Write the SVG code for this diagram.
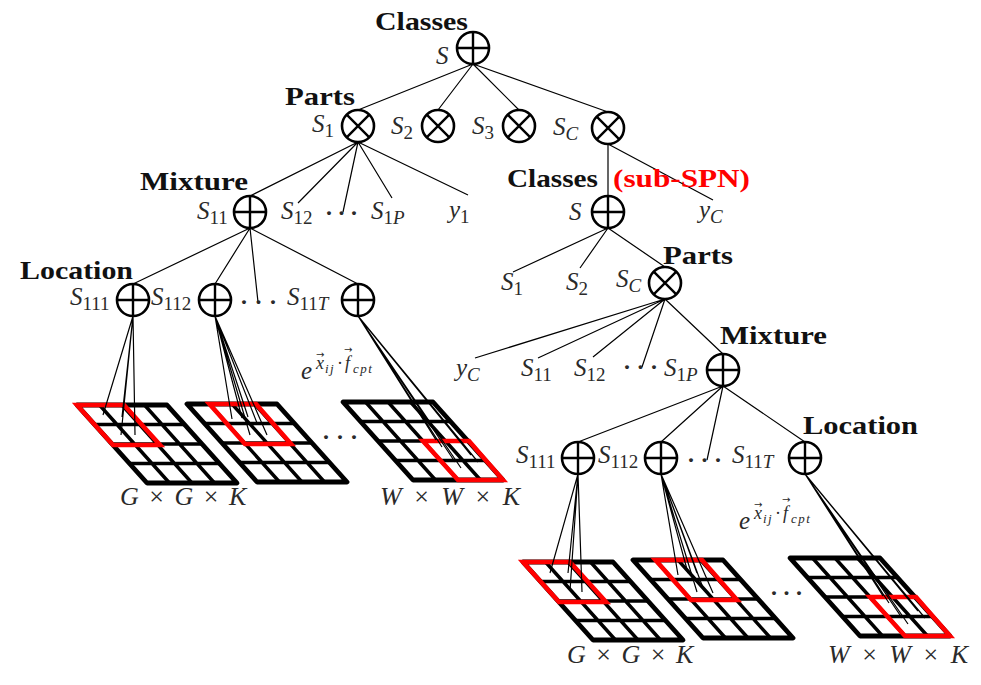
<svg xmlns="http://www.w3.org/2000/svg" xmlns:xlink="http://www.w3.org/1999/xlink" width="981" height="685" viewBox="0 0 981 685">
<style>
.bg{fill:#fff}
.nd{fill:#fff;stroke:#000;stroke-width:2.6}
.op{fill:none;stroke:#000;stroke-width:2.4}
.e{fill:none;stroke:#000;stroke-width:1.2}
.go{fill:none;stroke:#000;stroke-width:4.8;stroke-linejoin:round}
.gi{fill:none;stroke:#000;stroke-width:3.4}
.rb{fill:none;stroke:#f00;stroke-width:4.6;stroke-linejoin:miter}
.b{font-family:"Liberation Serif","Times New Roman",serif;font-weight:bold;font-size:25px;fill:#111}
.red{fill:#f00}
.m{font-family:"Liberation Serif","Times New Roman",serif;font-style:italic;font-size:25px;fill:#2a2a2a}
.s{font-size:19px}
.u{font-style:normal}
.sm{font-size:18px}
.ss{font-size:13px;letter-spacing:1.5px}
.ar{font-family:"DejaVu Sans","Liberation Sans",sans-serif;font-size:10px;fill:#2a2a2a}
.big{font-size:26px}
.dots{font-family:"Liberation Serif",serif;font-size:24px;fill:#2a2a2a;font-weight:bold}
</style>
<defs>
<g id="grid">
<path class="gi" d="M17.5,19.5H107.5M35,39H125M52.5,58.5H142.5M22.5,0L92.5,78M45,0L115,78M67.5,0L137.5,78"/>
<path class="go" d="M0,0H90L160,78H70Z"/>
</g>
<path id="rTL" class="rb" d="M0,0H47L83,40H36Z"/>
<path id="rT1" class="rb" d="M22.5,0H69L104,40H58Z"/>
<path id="rBR" class="rb" d="M80,39H126L160,78H115Z"/>
</defs>
<rect class="bg" x="0" y="0" width="981" height="685"/>

<g id="connectors">
<path class="e" d="M473,64L358,110M473,64L438,110M473,64L519,110M473,64L608,112"/>
<path class="e" d="M358,142L250,196M358,142L298,203M358,142L343,212M358,142L392,198M358,142L468,195"/>
<path class="e" d="M608,144L608,196M608,144L713,200"/>
<path class="e" d="M250,228L133,284M250,228L215,284M250,228L258,302M250,228L358,284"/>
<path class="e" d="M608,228L513,272M608,228L580,268M608,228L665,267"/>
<path class="e" d="M665,299L475,358M665,299L538,358M665,299L593,357M665,299L642,367M665,299L723,354"/>
<path class="e" d="M723,386L578,442M723,386L661,442M723,386L707,460M723,386L805,442"/>
</g>

<g id="grid-L1"><use xlink:href="#grid" x="77" y="405"/><use xlink:href="#rTL" x="77" y="405"/></g>
<g id="grid-L2"><use xlink:href="#grid" x="187" y="404"/><use xlink:href="#rT1" x="187" y="404"/></g>
<g id="grid-L3"><use xlink:href="#grid" x="343" y="402"/><use xlink:href="#rBR" x="343" y="402"/></g>
<g id="grid-R1"><use xlink:href="#grid" x="523" y="562"/><use xlink:href="#rTL" x="523" y="562"/></g>
<g id="grid-R2"><use xlink:href="#grid" x="633" y="560"/><use xlink:href="#rT1" x="633" y="560"/></g>
<g id="grid-R3"><use xlink:href="#grid" x="790" y="558"/><use xlink:href="#rBR" x="790" y="558"/></g>

<g id="fans">
<path class="e" d="M133,316L103,415M133,316L122,417M133,316L121,435M133,316L135,435"/>
<path class="e" d="M215,316L232,419M215,316L242,418M215,316L248,417M215,316L250,435M215,316L257,423M215,316L267,435"/>
<path class="e" d="M358,316L442,447M358,316L455,462M358,316L461,468M358,316L471,455M358,316L478,462M358,316L436,440"/>
<path class="e" d="M578,474L550,573M578,474L568,573M578,474L570,591M578,474L582,592"/>
<path class="e" d="M661,474L678,575M661,474L688,573M661,474L697,573M661,474L697,592M661,474L703,588M661,474L713,593"/>
<path class="e" d="M805,474L889,603M805,474L902,618M805,474L908,624M805,474L918,611M805,474L925,618M805,474L883,596"/>
</g>

<g id="n-root"><circle class="nd" cx="473" cy="48" r="16"/><path class="op" d="M457,48H489M473,32V64"/></g>
<g id="n-S1"><circle class="nd" cx="358" cy="126" r="16"/><path class="op" d="M346.7,114.7L369.3,137.3M369.3,114.7L346.7,137.3"/></g>
<g id="n-S2"><circle class="nd" cx="438" cy="126" r="16"/><path class="op" d="M426.7,114.7L449.3,137.3M449.3,114.7L426.7,137.3"/></g>
<g id="n-S3"><circle class="nd" cx="519" cy="126" r="16"/><path class="op" d="M507.7,114.7L530.3,137.3M530.3,114.7L507.7,137.3"/></g>
<g id="n-SC"><circle class="nd" cx="608" cy="128" r="16"/><path class="op" d="M596.7,116.7L619.3,139.3M619.3,116.7L596.7,139.3"/></g>
<g id="n-S11"><circle class="nd" cx="250" cy="212" r="16"/><path class="op" d="M234,212H266M250,196V228"/></g>
<g id="n-S111"><circle class="nd" cx="133" cy="300" r="16"/><path class="op" d="M117,300H149M133,284V316"/></g>
<g id="n-S112"><circle class="nd" cx="215" cy="300" r="16"/><path class="op" d="M199,300H231M215,284V316"/></g>
<g id="n-S11T"><circle class="nd" cx="358" cy="300" r="16"/><path class="op" d="M342,300H374M358,284V316"/></g>
<g id="n-subroot"><circle class="nd" cx="608" cy="212" r="16"/><path class="op" d="M592,212H624M608,196V228"/></g>
<g id="n-SC2"><circle class="nd" cx="665" cy="283" r="16"/><path class="op" d="M653.7,271.7L676.3,294.3M676.3,271.7L653.7,294.3"/></g>
<g id="n-mix2"><circle class="nd" cx="723" cy="370" r="16"/><path class="op" d="M707,370H739M723,354V386"/></g>
<g id="n-R111"><circle class="nd" cx="578" cy="458" r="16"/><path class="op" d="M562,458H594M578,442V474"/></g>
<g id="n-R112"><circle class="nd" cx="661" cy="458" r="16"/><path class="op" d="M645,458H677M661,442V474"/></g>
<g id="n-R11T"><circle class="nd" cx="805" cy="458" r="16"/><path class="op" d="M789,458H821M805,442V474"/></g>

<g id="labels-bold">
<text class="b" x="375" y="30" textLength="93" lengthAdjust="spacingAndGlyphs">Classes</text>
<text class="b" x="285" y="105" textLength="70" lengthAdjust="spacingAndGlyphs">Parts</text>
<text class="b" x="140" y="190" textLength="108" lengthAdjust="spacingAndGlyphs">Mixture</text>
<text class="b" x="20" y="279" textLength="113" lengthAdjust="spacingAndGlyphs">Location</text>
<text class="b" x="507" y="187" textLength="91" lengthAdjust="spacingAndGlyphs">Classes</text>
<text class="b red" x="613" y="187" textLength="137" lengthAdjust="spacingAndGlyphs">(sub-SPN)</text>
<text class="b" x="663" y="264" textLength="70" lengthAdjust="spacingAndGlyphs">Parts</text>
<text class="b" x="720" y="344" textLength="107" lengthAdjust="spacingAndGlyphs">Mixture</text>
<text class="b" x="803" y="434" textLength="115" lengthAdjust="spacingAndGlyphs">Location</text>
</g>

<g id="labels-math">
<text class="m" x="436" y="64">S</text>
<text class="m" x="312" y="132">S<tspan class="s u" dy="5">1</tspan></text>
<text class="m" x="391" y="134">S<tspan class="s u" dy="5">2</tspan></text>
<text class="m" x="472" y="134">S<tspan class="s u" dy="5">3</tspan></text>
<text class="m" x="553" y="135">S<tspan class="s" dy="5">C</tspan></text>
<text class="m" x="197" y="219">S<tspan class="s u" dy="5">11</tspan></text>
<text class="m" x="281" y="219">S<tspan class="s u" dy="5">12</tspan></text>
<text class="dots" x="325" y="221" textLength="33">· · ·</text>
<text class="m" x="371" y="219">S<tspan class="s u" dy="5">1</tspan><tspan class="s">P</tspan></text>
<text class="m" x="449" y="218">y<tspan class="s u" dy="5">1</tspan></text>
<text class="m" x="70" y="305">S<tspan class="s u" dy="5">111</tspan></text>
<text class="m" x="151" y="305">S<tspan class="s u" dy="5">112</tspan></text>
<text class="dots" x="240" y="310" textLength="37">· · ·</text>
<text class="m" x="287" y="305">S<tspan class="s u" dy="5">11</tspan><tspan class="s">T</tspan></text>
<g id="lbl-exp-L">
<text class="m" x="301" y="379">e<tspan class="sm" x="316" y="369">x</tspan><tspan class="ss" x="325" y="373">ij</tspan><tspan class="sm u" x="337" y="369">·</tspan><tspan class="sm" x="345" y="369">f</tspan><tspan class="ss" x="353" y="373">cpt</tspan></text>
<text class="ar" x="316" y="358">→</text>
<text class="ar" x="344" y="353">→</text>
</g>
<text class="dots" x="322" y="445" textLength="36">· · ·</text>
<text class="m big" x="120" y="505" word-spacing="4">G <tspan class="u">×</tspan> G <tspan class="u">×</tspan> K</text>
<text class="m big" x="380" y="505" word-spacing="6">W <tspan class="u">×</tspan> W <tspan class="u">×</tspan> K</text>

<text class="m" x="569" y="220">S</text>
<text class="m" x="699" y="218">y<tspan class="s" dy="5">C</tspan></text>
<text class="m" x="501" y="290">S<tspan class="s u" dy="5">1</tspan></text>
<text class="m" x="566" y="290">S<tspan class="s u" dy="5">2</tspan></text>
<text class="m" x="616" y="287">S<tspan class="s" dy="5">C</tspan></text>
<text class="m" x="456" y="376">y<tspan class="s" dy="5">C</tspan></text>
<text class="m" x="521" y="376">S<tspan class="s u" dy="5">11</tspan></text>
<text class="m" x="574" y="376">S<tspan class="s u" dy="5">12</tspan></text>
<text class="dots" x="623" y="375" textLength="35">· · ·</text>
<text class="m" x="664" y="376">S<tspan class="s u" dy="5">1</tspan><tspan class="s">P</tspan></text>
<text class="m" x="516" y="463">S<tspan class="s u" dy="5">111</tspan></text>
<text class="m" x="598" y="463">S<tspan class="s u" dy="5">112</tspan></text>
<text class="dots" x="687" y="468" textLength="35">· · ·</text>
<text class="m" x="732" y="463">S<tspan class="s u" dy="5">11</tspan><tspan class="s">T</tspan></text>
<g id="lbl-exp-R">
<text class="m" x="739" y="529">e<tspan class="sm" x="754" y="519">x</tspan><tspan class="ss" x="763" y="523">ij</tspan><tspan class="sm u" x="775" y="519">·</tspan><tspan class="sm" x="783" y="519">f</tspan><tspan class="ss" x="791" y="523">cpt</tspan></text>
<text class="ar" x="754" y="508">→</text>
<text class="ar" x="782" y="503">→</text>
</g>
<text class="dots" x="770" y="601" textLength="33">· · ·</text>
<text class="m big" x="567" y="663" word-spacing="4">G <tspan class="u">×</tspan> G <tspan class="u">×</tspan> K</text>
<text class="m big" x="828" y="663" word-spacing="6">W <tspan class="u">×</tspan> W <tspan class="u">×</tspan> K</text>
</g>
</svg>
